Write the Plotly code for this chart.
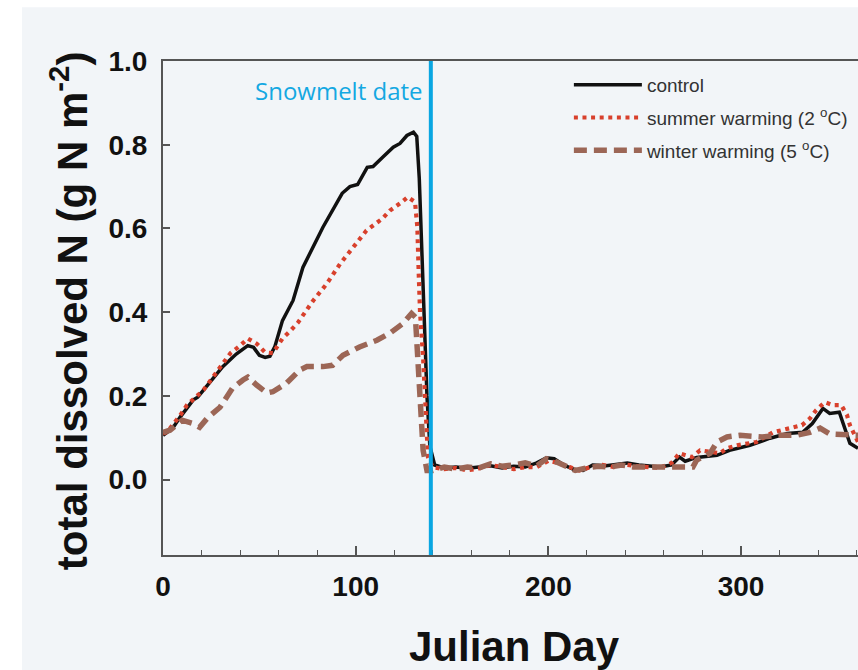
import plotly.graph_objects as go

# ---------------- data ----------------
control_day = [0, 5, 9, 15.6, 18, 24, 31, 38, 44, 47, 50, 53, 55.5, 58, 62, 67.5, 72.6, 83, 93, 97, 101,
               106, 109, 114, 119.5, 123, 126.6, 130, 131.7, 133, 134.5, 136, 137, 138.5, 141,
               146, 152, 158, 164, 170, 176, 182, 188, 194, 199, 203, 208, 213, 218, 223, 230, 236,
               241, 247, 252, 258, 264, 268, 271, 277, 287.5, 294, 304.6, 315, 324, 332, 337, 342.5,
               346, 351, 356.5, 360.7]
control_val = [0.106, 0.123, 0.15, 0.19, 0.197, 0.23, 0.27, 0.30, 0.32, 0.316, 0.297, 0.292, 0.295, 0.317,
               0.38, 0.428, 0.507, 0.603, 0.684, 0.70, 0.705, 0.746, 0.748, 0.77, 0.794, 0.803, 0.822,
               0.83, 0.82, 0.72, 0.50, 0.33, 0.20, 0.08, 0.035,
               0.028, 0.03, 0.027, 0.03, 0.033, 0.028, 0.032, 0.03, 0.04, 0.052, 0.05, 0.035, 0.025,
               0.022, 0.035, 0.033, 0.037, 0.04, 0.035, 0.032, 0.03, 0.035, 0.054, 0.044, 0.053, 0.058,
               0.07, 0.082, 0.099, 0.11, 0.113, 0.134, 0.17, 0.158, 0.161, 0.087, 0.075]

summer_day = [0, 2, 9, 12.4, 21, 28, 35, 40, 44, 48.6, 53, 57, 62, 66, 70, 78, 85, 92, 98.6, 105.6, 114,
              117.8, 123, 127, 130.8, 132, 132.8, 133.4, 135, 136, 136.8, 137.5, 140,
              146, 152, 158, 164, 170, 176, 182, 188, 194, 200, 205, 211, 216, 222, 228, 234, 240,
              246, 252, 258, 264, 268, 274.5, 278.7, 289, 292.7, 298, 303, 308, 316.6, 321.7, 327,
              331.6, 335.7, 339, 343.5, 347.7, 352, 355, 356.5, 358.6, 360.7]
summer_val = [0.11, 0.113, 0.154, 0.178, 0.214, 0.257, 0.302, 0.32, 0.337, 0.325, 0.304, 0.302, 0.337,
              0.355, 0.375, 0.428, 0.468, 0.516, 0.555, 0.595, 0.624, 0.643, 0.66, 0.675, 0.663, 0.603,
              0.48, 0.40, 0.29, 0.21, 0.118, 0.054, 0.03,
              0.025, 0.028, 0.022, 0.027, 0.035, 0.03, 0.025, 0.03, 0.03, 0.045, 0.04, 0.03, 0.022,
              0.03, 0.035, 0.03, 0.036, 0.032, 0.03, 0.028, 0.04, 0.063, 0.054, 0.07, 0.063, 0.075,
              0.082, 0.087, 0.09, 0.113, 0.118, 0.123, 0.13, 0.146, 0.166, 0.185, 0.178, 0.178, 0.154,
              0.13, 0.11, 0.09]

winter_day = [0, 3.6, 10, 15, 19, 23, 29.6, 36, 41.5, 44, 48.6, 54, 57, 64, 71, 74.7, 83, 88, 93.4, 102,
              111, 117.8, 124.5, 129, 131, 132.3, 134.4, 135, 137, 140,
              146, 152, 158, 164, 170, 176, 182, 188, 194, 199, 203, 208, 214, 220, 226, 232, 238,
              244, 252.7, 263, 275, 277, 284, 287.5, 292.7, 299.4, 311, 320, 329, 335.7, 341, 346,
              353, 360.7]
winter_val = [0.113, 0.118, 0.142, 0.135, 0.125, 0.147, 0.173, 0.218, 0.238, 0.245, 0.226, 0.207, 0.21,
              0.23, 0.262, 0.27, 0.27, 0.273, 0.297, 0.317, 0.333, 0.35, 0.373, 0.397, 0.388, 0.29,
              0.133, 0.07, 0.022, 0.022,
              0.03, 0.025, 0.03, 0.028, 0.038, 0.032, 0.035, 0.04, 0.033, 0.05, 0.045, 0.035, 0.022,
              0.028, 0.032, 0.03, 0.035, 0.03, 0.03, 0.03, 0.03, 0.047, 0.063, 0.09, 0.102, 0.106,
              0.102, 0.106, 0.106, 0.113, 0.123, 0.109, 0.109, 0.106]

series_names = ["control", "summer warming (2 <sup>o</sup>C)", "winter warming (5 <sup>o</sup>C)"]
SNOWMELT_DAY = 139
x_tick_vals = [0, 100, 200, 300]
y_tick_vals = [0.0, 0.2, 0.4, 0.6, 0.8, 1.0]
y_tick_text = ["0.0", "0.2", "0.4", "0.6", "0.8", "1.0"]

# ---------------- figure ----------------
BG = "#f2f5f8"
fig = go.Figure()

fig.add_trace(go.Scatter(x=control_day, y=control_val, mode="lines", name=series_names[0],
                         legendgroup="a", line=dict(color="#111111", width=3.5)))
fig.add_trace(go.Scatter(x=summer_day, y=summer_val, mode="lines", name=series_names[1],
                         legendgroup="b", line=dict(color="#d8402c", width=4.2, dash="4px,4.6px")))
fig.add_trace(go.Scatter(x=winter_day, y=winter_val, mode="lines", name=series_names[2],
                         legendgroup="c", line=dict(color="#9c6656", width=5.5, dash="13px,7px")))

# snowmelt line
fig.add_shape(type="line", xref="x", yref="paper", x0=SNOWMELT_DAY, x1=SNOWMELT_DAY, y0=0, y1=1,
              line=dict(color="#0aa6e2", width=4), layer="above")
fig.add_annotation(x=SNOWMELT_DAY, y=0.941, xref="x", yref="paper", xanchor="right", yanchor="middle",
                   xshift=-6, text="Snowmelt date", showarrow=False,
                   font=dict(family="Open Sans", size=24, color="#14a8e2"))

# decorative white borders of the original picture
fig.add_shape(type="rect", xref="paper", yref="paper", x0=-0.2345, x1=-0.2029, y0=-0.24, y1=1.13,
              fillcolor="white", line=dict(width=0), layer="below")
fig.add_shape(type="rect", xref="paper", yref="paper", x0=-0.2345, x1=1.01, y0=1.1086, y1=1.13,
              fillcolor="white", line=dict(width=0), layer="below")

# axis titles as annotations
fig.add_annotation(x=-0.135, y=0.494, xref="paper", yref="paper", textangle=-90,
                   text="<b>total dissolved N (g N m<sup>-2</sup>)</b>", showarrow=False,
                   xanchor="center", yanchor="middle",
                   font=dict(family="Liberation Sans", size=42, color="#111111"))
fig.add_annotation(x=0.506, y=-0.186, xref="paper", yref="paper",
                   text="<b>Julian Day</b>", showarrow=False, xanchor="center", yanchor="middle",
                   font=dict(family="Liberation Sans", size=42, color="#111111"))

fig.update_layout(
    width=858, height=670,
    margin=dict(l=163, r=0, t=61, b=115, pad=0),
    paper_bgcolor=BG, plot_bgcolor=BG,
    showlegend=True,
    legend=dict(x=0.584, y=0.99, xanchor="left", yanchor="top", bgcolor="rgba(0,0,0,0)",
                borderwidth=0, itemwidth=68, tracegroupgap=5, traceorder="grouped",
                font=dict(family="Liberation Sans", size=19, color="#333333")),
    xaxis=dict(range=[0, 360.7], showgrid=False, zeroline=False, showline=True, linecolor="#555555",
               linewidth=2, mirror=True, ticks="inside", ticklen=9, tickwidth=1.5, tickcolor="#555555",
               tickvals=x_tick_vals, ticktext=[str(v) for v in x_tick_vals],
               tickfont=dict(family="Liberation Sans", size=28, color="#111111", weight="bold"),
               ticklabelstandoff=5,
               minor=dict(dtick=20, tick0=0, ticks="inside", ticklen=5, tickwidth=1.2,
                          tickcolor="#555555", showgrid=False)),
    yaxis=dict(range=[-0.18, 1.0], showgrid=False, zeroline=False, showline=True, linecolor="#555555",
               linewidth=2, mirror=False, ticks="inside", ticklen=7, tickwidth=1.5, tickcolor="#555555",
               tickvals=y_tick_vals, ticktext=y_tick_text,
               tickfont=dict(family="Liberation Sans", size=28, color="#111111", weight="bold"),
               ticklabelstandoff=8),
)

fig.write_html("out.html")
